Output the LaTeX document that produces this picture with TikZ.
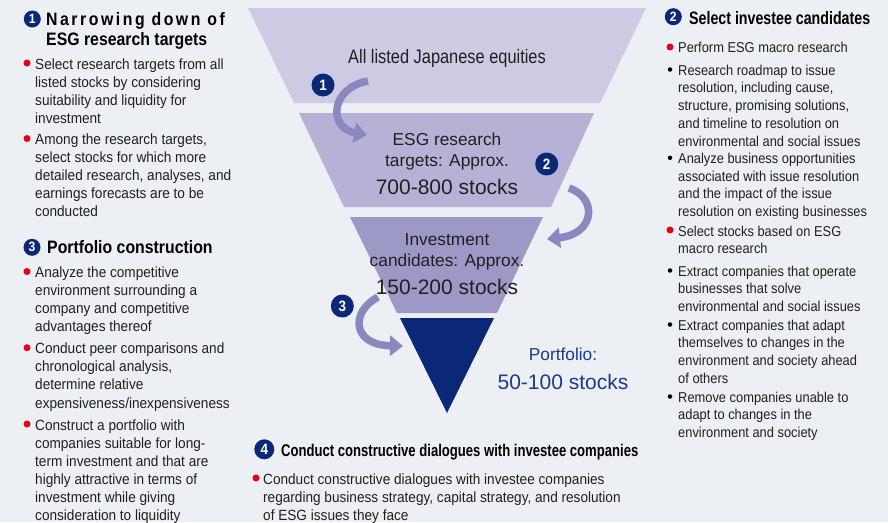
\documentclass[tikz,border=0pt]{standalone}
\usepackage{fontspec}
\usetikzlibrary{arrows.meta}
\setmainfont{Liberation Sans}
\newfontfamily\bodyf[FakeStretch=0.92]{Liberation Sans}
\newfontfamily\bodyrf[FakeStretch=0.9]{Liberation Sans}
\newfontfamily\headf[FakeStretch=0.88]{Liberation Sans}
\newfontfamily\headnf[FakeStretch=0.79]{Liberation Sans}
\newfontfamily\headbf[FakeStretch=0.77]{Liberation Sans}
\newfontfamily\condf[FakeStretch=0.84]{Liberation Sans}
\newfontfamily\numf[FakeStretch=0.9]{Liberation Sans}
\definecolor{bg}{HTML}{ECEFF3}
\definecolor{lvlA}{HTML}{CDCBE4}
\definecolor{lvlB}{HTML}{B5B2D6}
\definecolor{lvlC}{HTML}{9D99C6}
\definecolor{navy}{HTML}{0B2878}
\definecolor{pfblue}{HTML}{1B3A8C}
\definecolor{arr}{HTML}{8B88BF}
\definecolor{bred}{HTML}{E60012}
\definecolor{txt}{HTML}{231F20}
\tikzset{
  body/.style={anchor=base west, inner sep=0pt, align=left, text=txt,
    font=\bodyf\fontsize{14.8}{18.1}\selectfont},
  bodyr/.style={anchor=base west, inner sep=0pt, align=left, text=txt,
    font=\bodyrf\fontsize{14.3}{17.8}\selectfont},
  head/.style={anchor=base west, inner sep=0pt, align=left, text=black,
    font=\headf\bfseries\fontsize{18}{20}\selectfont},
  headn/.style={anchor=base west, inner sep=0pt, align=left, text=black,
    font=\headnf\bfseries\fontsize{18}{20}\selectfont},
  numc/.style={circle, fill=navy, text=white, inner sep=0pt, minimum size=#1,
    font=\numf\bfseries\fontsize{15}{15}\selectfont},
  reddot/.style={circle, fill=bred, inner sep=0pt, minimum size=7pt},
  blkdot/.style={circle, fill=black, inner sep=0pt, minimum size=4.5pt},
  flow/.style={line width=7.5pt, draw=arr, -{Triangle[length=13pt,width=20pt]}},
  ftext/.style={anchor=base, inner sep=0pt, text=txt, font=\fontsize{17.3}{20}\selectfont},
  fbig/.style={anchor=base, inner sep=0pt, text=txt, font=\fontsize{21}{24}\selectfont},
}
\begin{document}
\begin{tikzpicture}[x=1pt,y=-1pt]
\fill[bg] (0,0) rectangle (888,522);
\useasboundingbox (0,0) rectangle (888,522);
% funnel levels
\fill[lvlA] (248,8) -- (646,8) -- (600,103) -- (294,103) -- cycle;
\fill[lvlB] (299,113) -- (594,113) -- (551,207) -- (344,207) -- cycle;
\fill[lvlC] (350,217) -- (543,217) -- (497,313) -- (397,313) -- cycle;
\fill[navy] (400,318) -- (494,318) -- (447,413) -- cycle;
% funnel texts
\node[ftext, font=\condf\fontsize{19.5}{22}\selectfont] (all) at (447,63.3) {All listed Japanese equities};
\node[ftext] (esg1) at (447,145.7) {ESG research};
\node[ftext] (esg2) at (447,166.7) {targets: Approx.};
\node[fbig] (esg3) at (447,194) {700-800 stocks};
\node[ftext] (inv1) at (447,245.7) {Investment};
\node[ftext] (inv2) at (447,266.7) {candidates: Approx.};
\node[fbig] (inv3) at (447,294.3) {150-200 stocks};
\node[ftext, text=pfblue] (pf1) at (563,360.7) {Portfolio:};
\node[fbig, text=pfblue] (pf2) at (563,389.3) {50-100 stocks};
% flow arrows
\coordinate (a1s) at (368,81); \coordinate (a1e) at (367,135);
\coordinate (a2s) at (569,188); \coordinate (a2e) at (547,239);
\coordinate (a3s) at (378,297); \coordinate (a3e) at (403,346);
\draw[flow] (a1s) .. controls (330,88) and (328,128) .. (a1e);
\draw[flow] (a2s) .. controls (598,198) and (595,234) .. (a2e);
\draw[flow] (a3s) .. controls (350,312) and (352,345) .. (a3e);
\node[numc=23pt] (f1) at (323,85) {1};
\node[numc=23pt] (f2) at (546.7,164) {2};
\node[numc=23pt] (f3) at (342.3,306) {3};
% left column: step 1 (multi-line nodes are placed by the baseline of their last line)
\node[numc=17pt, font=\numf\bfseries\fontsize{13.5}{13.5}\selectfont] (n1) at (32.3,19) {1};
\node[head, font=\headf\bfseries\fontsize{18}{20}\selectfont\addfontfeature{LetterSpace=14}] (h1a) at (46,25) {Narrowing down of};
\node[head] (h1b) at (46,45) {ESG research targets};
\node[reddot] (d11) at (27,63) {};
\node[body] (t11) at (35,123.3) {Select research targets from all\\listed stocks by considering\\suitability and liquidity for\\investment};
\node[reddot] (d12) at (27,138.5) {};
\node[body] (t12) at (35,216.9) {Among the research targets,\\select stocks for which more\\detailed research, analyses, and\\earnings forecasts are to be\\conducted};
% left column: step 3
\node[numc=17pt, font=\numf\bfseries\fontsize{13.5}{13.5}\selectfont] (n3) at (32,247.3) {3};
\node[head] (h3) at (47,253) {Portfolio construction};
\node[reddot] (d31) at (27,271.5) {};
\node[body] (t31) at (35,331.8) {Analyze the competitive\\environment surrounding a\\company and competitive\\advantages thereof};
\node[reddot] (d32) at (27,347.7) {};
\node[body] (t32) at (35,408) {Conduct peer comparisons and\\chronological analysis,\\determine relative\\expensiveness/inexpensiveness};
\node[reddot] (d33) at (27,424) {};
\node[body] (t33) at (35,520.5) {Construct a portfolio with\\companies suitable for long-\\term investment and that are\\highly attractive in terms of\\investment while giving\\consideration to liquidity};
% right column: step 2
\node[numc=17pt, font=\numf\bfseries\fontsize{13.5}{13.5}\selectfont] (n2) at (673.3,16.7) {2};
\node[headn] (h2) at (689,24) {Select investee candidates};
\node[reddot] (d21) at (670,47) {};
\node[bodyr] (t21) at (678,52.5) {Perform ESG macro research};
\node[blkdot] (b21) at (670,69.5) {};
\node[bodyr] (t22) at (678,146.2) {Research roadmap to issue\\resolution, including cause,\\structure, promising solutions,\\and timeline to resolution on\\environmental and social issues};
\node[blkdot] (b22) at (670,157.8) {};
\node[bodyr] (t23) at (678,216.7) {Analyze business opportunities\\associated with issue resolution\\and the impact of the issue\\resolution on existing businesses};
\node[reddot] (d22) at (670,230) {};
\node[bodyr] (t24) at (678,253.8) {Select stocks based on ESG\\macro research};
\node[blkdot] (b23) at (670,270.5) {};
\node[bodyr] (t25) at (678,311.6) {Extract companies that operate\\businesses that solve\\environmental and social issues};
\node[blkdot] (b24) at (670,324.5) {};
\node[bodyr] (t26) at (678,383.4) {Extract companies that adapt\\themselves to changes in the\\environment and society ahead\\of others};
\node[blkdot] (b25) at (670,396.5) {};
\node[bodyr] (t27) at (678,437.6) {Remove companies unable to\\adapt to changes in the\\environment and society};
% bottom: step 4
\node[numc=20pt, font=\numf\bfseries\fontsize{15}{15}\selectfont] (n4) at (264.3,449.3) {4};
\node[headn, font=\headbf\bfseries\fontsize{17}{20}\selectfont] (h4) at (281,456) {Conduct constructive dialogues with investee companies};
\node[reddot] (d41) at (256,478) {};
\node[body] (t41) at (263,520.2) {Conduct constructive dialogues with investee companies\\regarding business strategy, capital strategy, and resolution\\of ESG issues they face};
\end{tikzpicture}
\end{document}
